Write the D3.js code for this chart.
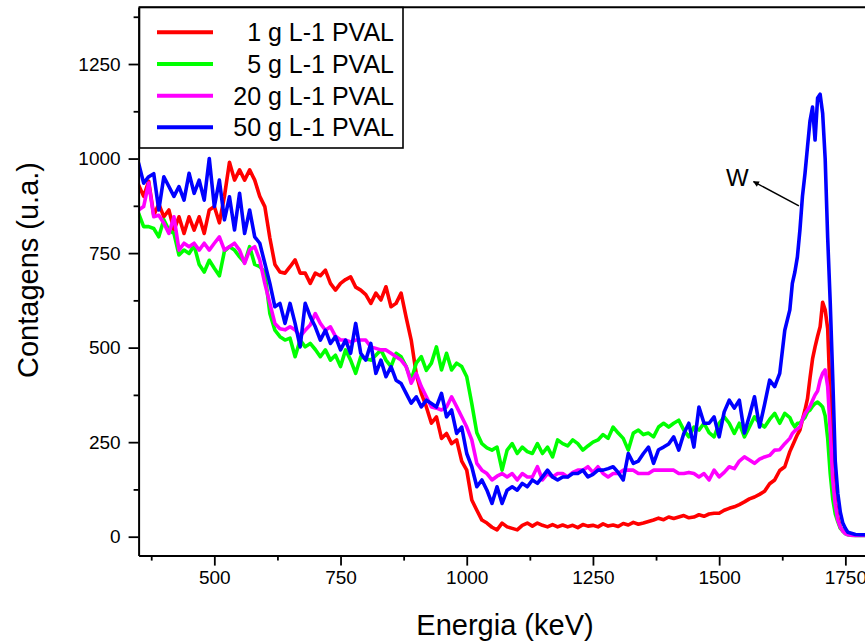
<!DOCTYPE html>
<html>
<head>
<meta charset="utf-8">
<script src="https://cdn.jsdelivr.net/npm/d3@7"></script>
<style>
  html, body { margin: 0; padding: 0; background: #fff; }
  svg { display: block; }
  text { font-family: "Liberation Sans", Arial, sans-serif; fill: #000; }
</style>
</head>
<body>
<svg id="chart" width="865" height="644"></svg>
<script>
// ---------------- DATA ----------------
const energy = [
  350,360,370,380,390,400,410,420,430,440,
  450,460,470,480,490,500,510,520,530,540,
  550,560,570,580,590,600,610,620,630,640,
  650,660,670,680,690,700,710,720,730,740,
  750,760,770,780,790,800,810,820,830,840,
  850,860,870,880,890,900,910,920,930,940,
  950,960,970,980,990,1000,1010,1020,1030,1040,
  1050,1060,1070,1080,1090,1100,1110,1120,1130,1140,
  1150,1160,1170,1180,1190,1200,1210,1220,1230,1240,
  1250,1260,1270,1280,1290,1300,1310,1320,1330,1340,
  1350,1360,1370,1380,1390,1400,1410,1420,1430,1440,
  1450,1460,1470,1480,1490,1500,1510,1520,1530,1540,
  1550,1560,1570,1580,1590,1600,1610,1620,1630,
  1640,1645,1650,1655,1660,1665,1670,1675,1680,1685,1690,1695,1700,1705,1710,1715,1720,1725,1730,1735,1740,1745,1750,1755,1760,
  1770,1780,1790
];

const pval1 = [
  930,900,940,850,880,846,864,811,846,802,
  846,811,846,802,864,873,830,900,990,943,
  970,943,970,943,900,873,790,720,700,697,
  714,732,697,697,670,697,690,705,670,652,
  670,680,687,660,652,640,617,644,626,661,
  608,617,644,580,520,430,379,343,300,317,
  260,273,246,256,200,176,97,70,44,36,
  25,18,36,26,22,18,30,36,28,36,
  30,26,32,26,31,26,30,24,32,28,
  30,26,34,28,31,27,35,31,38,33,
  36,40,44,49,45,52,48,52,56,50,
  52,58,54,60,62,62,70,75,79,85,
  92,100,105,112,120,140,150,175,185,
  225,240,255,270,282,310,335,365,420,470,502,530,555,620,600,550,370,180,95,50,25,15,10,8,6,
  5,4,4
];

const pval5 = [
  855,820,820,815,793,838,811,802,745,758,
  749,770,720,700,731,710,690,755,767,758,
  740,725,767,720,714,700,590,546,529,520,
  525,476,520,502,511,495,476,494,467,480,
  450,494,467,432,476,470,467,480,494,467,
  450,485,476,450,414,459,476,440,459,502,
  441,485,441,459,450,423,352,275,246,235,
  229,237,176,229,246,220,237,225,220,246,
  220,237,211,256,246,240,256,246,229,240,
  250,256,270,260,290,274,260,229,274,282,
  270,274,264,290,300,290,300,308,282,264,
  290,282,300,275,264,300,317,300,273,300,
  264,290,317,300,290,310,326,300,326,
  315,300,290,300,300,308,315,330,335,345,352,356,350,343,320,260,167,100,60,40,22,15,8,5,4,
  3,3,3
];

const pval20 = [
  864,873,935,846,850,829,802,846,758,776,
  767,776,758,776,758,776,793,758,767,776,
  758,723,758,767,732,670,617,564,550,547,
  555,547,530,546,560,590,564,546,555,530,
  520,520,515,520,520,520,502,498,494,494,
  485,476,467,450,406,432,397,370,343,340,
  335,343,370,344,317,290,256,194,176,167,
  150,160,167,158,167,150,167,158,158,185,
  150,167,158,167,167,158,170,176,176,185,
  170,185,167,158,167,167,176,176,176,167,
  167,167,176,176,176,176,176,167,167,170,
  167,158,167,150,176,158,170,185,180,200,
  211,203,194,205,211,215,229,230,246,
  260,273,280,285,290,310,325,335,345,360,375,385,414,432,441,397,282,150,85,44,25,15,8,5,4,
  3,3,3
];

const pval50 = [
  988,935,952,960,864,952,926,900,926,890,
  961,908,943,890,1000,873,943,838,899,811,
  908,802,864,793,776,723,670,608,617,564,
  617,564,502,617,582,555,520,546,511,529,
  494,520,485,564,485,467,511,432,467,423,
  450,414,405,379,353,370,343,361,352,343,
  379,317,335,273,290,220,185,132,150,123,
  88,132,88,123,132,123,141,132,150,141,
  158,176,158,150,158,158,167,167,176,158,
  165,176,176,180,185,170,150,220,194,200,
  220,237,194,230,237,245,264,229,273,300,
  237,343,300,300,317,264,330,361,340,361,
  274,320,370,290,350,414,397,432,546,
  600,670,700,740,811,900,960,1031,1100,1136,1049,1160,1170,1120,1000,790,620,420,200,115,65,36,22,12,10,
  6,5,5
];

const seriesNames  = ["1 g L-1 PVAL", "5 g L-1 PVAL", "20 g L-1 PVAL", "50 g L-1 PVAL"];
const seriesValues = [pval1, pval5, pval20, pval50];
const seriesColors = ["#ff0000", "#00ff00", "#ff00ff", "#0000ff"];

const xMajorTicks = [500, 750, 1000, 1250, 1500, 1750];
const xMinorTicks = [375, 625, 875, 1125, 1375, 1625];
const yMajorTicks = [0, 250, 500, 750, 1000, 1250];
const yMinorTicks = [125, 375, 625, 875, 1125, 1375];

const xTitle = "Energia (keV)";
const yTitle = "Contagens (u.a.)";
const annotationText = "W";
const annotationTail = [1658, 875];
const annotationHead = [1568, 939];
const annotationLabel = [1536, 927];

// --------------- CHART ---------------
seriesValues.forEach((s, i) => {
  if (s.length !== energy.length) throw new Error("length mismatch series " + i + ": " + s.length + " vs " + energy.length);
});

const svg = d3.select("#chart");
const X0 = 138.6, X1 = 870.6, Y0 = 555.6, Y1 = 7.3;
const x = d3.scaleLinear().domain([350, 1800]).range([X0, X1]);
const y = d3.scaleLinear().domain([-50, 1400]).range([Y0, Y1]);

svg.append("defs").append("clipPath").attr("id", "plotclip")
  .append("rect").attr("x", X0).attr("y", Y1).attr("width", X1 - X0).attr("height", Y0 - Y1);

svg.append("defs").append("marker")
  .attr("id", "arrowhead").attr("viewBox", "0 0 10 10")
  .attr("refX", 9).attr("refY", 5)
  .attr("markerWidth", 8).attr("markerHeight", 6)
  .attr("markerUnits", "userSpaceOnUse")
  .attr("orient", "auto")
  .append("path").attr("d", "M0,0 L10,5 L0,10 Z").attr("fill", "#000");

// data lines
const line = d3.line()
  .x(d => x(d[0]))
  .y(d => y(d[1]));

const gLines = svg.append("g").attr("clip-path", "url(#plotclip)");
seriesValues.forEach((vals, i) => {
  const pts = energy.map((e, k) => [e, vals[k]]);
  gLines.append("path")
    .datum(pts)
    .attr("d", line)
    .attr("fill", "none")
    .attr("stroke", seriesColors[i])
    .attr("stroke-width", 3.6)
    .attr("stroke-linejoin", "round")
    .attr("stroke-linecap", "round");
});

// axes
const axisFont = 19;
const gx = svg.append("g").attr("transform", `translate(0,${Y0})`);
gx.call(d3.axisBottom(x).tickValues(xMajorTicks).tickSize(10).tickSizeOuter(0).tickPadding(5).tickFormat(d3.format("d")));
const gxm = svg.append("g").attr("transform", `translate(0,${Y0})`);
gxm.call(d3.axisBottom(x).tickValues(xMinorTicks).tickSize(5).tickSizeOuter(0).tickFormat(""));
gxm.select(".domain").remove();

const gy = svg.append("g").attr("transform", `translate(${X0},0)`);
gy.call(d3.axisLeft(y).tickValues(yMajorTicks).tickSize(10).tickSizeOuter(0).tickPadding(8).tickFormat(d3.format("d")));
const gym = svg.append("g").attr("transform", `translate(${X0},0)`);
gym.call(d3.axisLeft(y).tickValues(yMinorTicks).tickSize(5).tickSizeOuter(0).tickFormat(""));
gym.select(".domain").remove();

[gx, gxm, gy, gym].forEach(g => {
  g.selectAll(".domain").attr("stroke", "#000").attr("stroke-width", 2);
  g.selectAll(".tick line").attr("stroke", "#000").attr("stroke-width", 1.8);
  g.selectAll(".tick text").attr("font-size", axisFont)
    .attr("font-family", "'Liberation Sans', Arial, sans-serif").attr("fill", "#000");
});

// top frame line
svg.append("line")
  .attr("x1", X0).attr("x2", X1).attr("y1", Y1).attr("y2", Y1)
  .attr("stroke", "#000").attr("stroke-width", 2);

// axis titles
svg.append("text")
  .attr("x", 505).attr("y", 635)
  .attr("text-anchor", "middle")
  .attr("font-size", 29)
  .text(xTitle);

svg.append("text")
  .attr("transform", "translate(38,270) rotate(-90)")
  .attr("text-anchor", "middle")
  .attr("font-size", 29)
  .text(yTitle);

// legend
const lg = svg.append("g");
lg.append("rect")
  .attr("x", 139.5).attr("y", 7.5).attr("width", 263.5).attr("height", 140.5)
  .attr("fill", "#fff").attr("stroke", "#000").attr("stroke-width", 1.6);
const legendY = [32.3, 64, 95.7, 127.3];
seriesNames.forEach((name, i) => {
  lg.append("line")
    .attr("x1", 157).attr("x2", 213)
    .attr("y1", legendY[i]).attr("y2", legendY[i])
    .attr("stroke", seriesColors[i]).attr("stroke-width", 4);
  lg.append("text")
    .attr("x", 394).attr("y", legendY[i] + 9)
    .attr("text-anchor", "end")
    .attr("font-size", 25)
    .text(name);
});

// annotation
svg.append("line")
  .attr("x1", x(annotationTail[0])).attr("y1", y(annotationTail[1]))
  .attr("x2", x(annotationHead[0])).attr("y2", y(annotationHead[1]))
  .attr("stroke", "#000").attr("stroke-width", 1.5)
  .attr("marker-end", "url(#arrowhead)");
svg.append("text")
  .attr("x", x(annotationLabel[0])).attr("y", y(annotationLabel[1]))
  .attr("text-anchor", "middle")
  .attr("font-size", 24)
  .text(annotationText);
</script>
</body>
</html>
